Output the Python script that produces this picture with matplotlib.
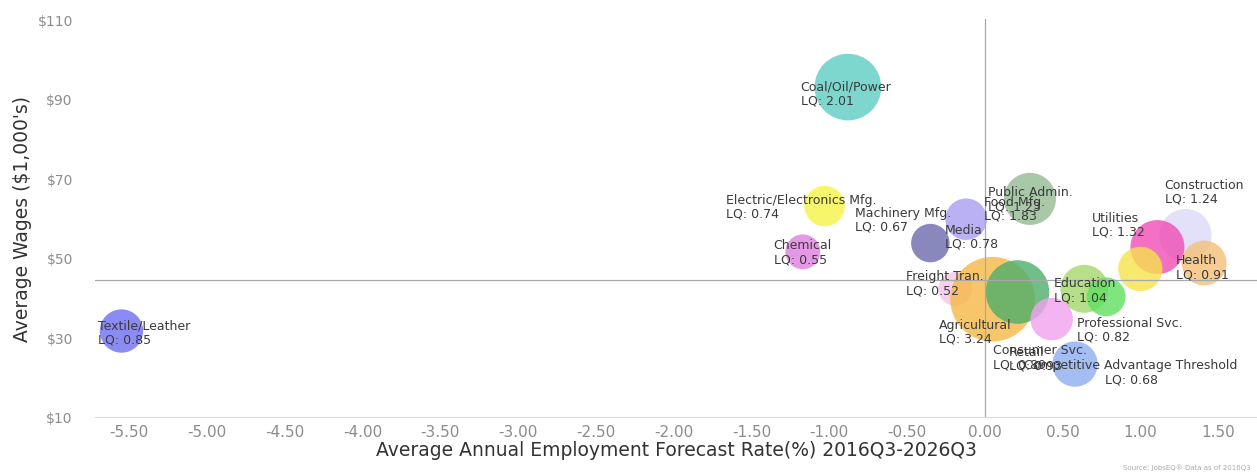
import numpy as np
import matplotlib.pyplot as plt

# industry bubbles: growth rate (%), average wage ($1,000's), location quotient
industries = [
    "Freight Tran.", "Textile/Leather", "Coal/Oil/Power", "Electric/Electronics Mfg.",
    "Chemical", "Machinery Mfg.", "Media", "Public Admin.", "Agricultural",
    "Food Mfg.", "Construction", "Utilities", "Health", "Consumer Svc.",
    "Education", "Competitive Advantage Threshold", "Professional Svc.", "Retail",
]
growth = [-0.19, -5.55, -0.88, -1.03, -1.17, -0.35, -0.12, 0.29, 0.05,
          0.21, 1.29, 1.11, 1.41, 1.00, 0.64, 0.78, 0.43, 0.58]
wages = [42.2, 31.6, 92.9, 63.0, 51.5, 53.7, 59.7, 64.8, 39.6,
         41.4, 55.7, 52.7, 48.7, 47.2, 42.2, 40.2, 34.6, 23.3]
lq = [0.52, 0.85, 2.01, 0.74, 0.55, 0.67, 0.78, 1.23, 3.24,
      1.83, 1.24, 1.32, 0.91, 0.89, 1.04, 0.68, 0.82, 0.93]

avg_wage = 44.4
avg_growth = 0.0

x_ticks = np.arange(-5.5, 1.51, 0.5)
y_ticks = [10, 30, 50, 70, 90, 110]

# styling
colors = ["#f3c6e8", "#6e6ef2", "#5ccdc2", "#f6f347", "#df7edf", "#6b6bab",
          "#a99ef2", "#93bb93", "#f7b845", "#4dae6a", "#dcdaf8", "#f04cb6",
          "#f4c077", "#f8e34c", "#a5d86c", "#5fe05f", "#f2a2ee", "#8eaef0"]
# label centre offsets from bubble centre, in pixels (right, down)
label_off = [(-10, -6), (23, 1), (-2, 6), (-23, 0), (0, 0), (-27, -24),
             (5, 17), (0, 0), (-17, 32), (-3, -84), (19, -44), (-39, -23),
             (-2, 4), (-100, 88), (1, 1), (25, 75), (78, 10), (-40, -6)]

fig = plt.figure(figsize=(12.57, 4.77), dpi=100)
ax = fig.add_axes([0.0756, 0.1237, 0.9244, 0.8343])

ax.axhline(avg_wage, color="#a8a8a8", lw=0.9, zorder=2.5)
ax.axvline(avg_growth, color="#a8a8a8", lw=0.9, zorder=2.5)

sizes = 1145 * np.array(lq)
ax.scatter(growth, wages, s=sizes, c=colors, alpha=0.8, linewidths=0, zorder=2)

for name, x, y, q, (dx, dy) in zip(industries, growth, wages, lq, label_off):
    align = "center" if len(name) > 25 else "left"
    ax.annotate(f"{name}\nLQ: {q:.2f}", (x, y), xytext=(dx * 0.72, -dy * 0.72),
                textcoords="offset points", ha="center", va="center",
                fontsize=9, color="#3a3a3a", linespacing=1.1,
                zorder=3, multialignment=align)

ax.set_xlim(-5.72, 1.75)
ax.set_ylim(10, 110)
ax.set_xticks(x_ticks)
ax.set_xticklabels([f"{v:.2f}" for v in x_ticks])
ax.set_yticks(y_ticks)
ax.set_yticklabels([f"${v}" for v in y_ticks])
ax.tick_params(length=0, colors="#8c8c8c")
ax.tick_params(axis="x", labelsize=11, pad=5)
ax.tick_params(axis="y", labelsize=10, pad=16)

for side in ["top", "right", "left"]:
    ax.spines[side].set_visible(False)
ax.spines["bottom"].set_color("#dddddd")

ax.set_xlabel("Average Annual Employment Forecast Rate(%) 2016Q3-2026Q3",
              fontsize=13.5, color="#333333", labelpad=1)
ax.set_ylabel("Average Wages ($1,000's)", fontsize=13.5, color="#333333", labelpad=4)

fig.text(0.995, 0.012, "Source: JobsEQ\u00ae Data as of 2016Q3", ha="right",
         va="bottom", fontsize=5, color="#aaaaaa")

fig.savefig("out.png", dpi=100)
